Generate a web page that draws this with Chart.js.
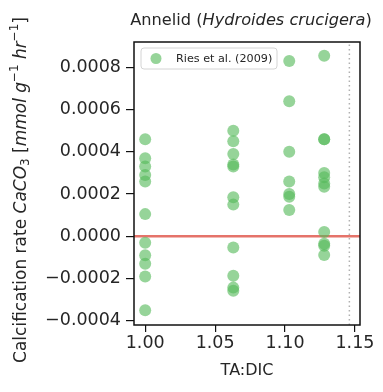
<!DOCTYPE html>
<html>
<head>
<meta charset="utf-8">
<script src="https://cdn.jsdelivr.net/npm/chart.js@4"></script>
<style>
  html, body { margin: 0; padding: 0; background: #fff; }
  #wrap { width: 383px; height: 392px; }
</style>
</head>
<body>
<div id="wrap"><canvas id="chart" width="383" height="392"></canvas></div>
<script>
// TA:DIC ratio for each group of measurements
const taDic = [1.000, 1.063, 1.103, 1.128];

// calcification rates per TA:DIC group (mmol g-1 hr-1)
const rates100 = [0.00046, 0.00037, 0.00033, 0.00029, 0.00026, 0.000105, -0.00003, -0.00009, -0.00013, -0.00019, -0.00035];
const rates106 = [0.0005, 0.00045, 0.00039, 0.00034, 0.00033, 0.000185, 0.00015, -0.000053, -0.000187, -0.000243, -0.000258];
const rates110 = [0.00083, 0.00064, 0.0004, 0.00026, 0.0002, 0.000187, 0.000124];
const rates113 = [0.000855, 0.00046, 0.00046, 0.0003, 0.00028, 0.00025, 0.000235, 0.00002, -0.000035, -0.000045, -0.000088];

const seriesLabel = 'Ries et al. (2009)';
const xTicks = [1.00, 1.05, 1.10, 1.15];
const yTicks = [-0.0004, -0.0002, 0, 0.0002, 0.0004, 0.0006, 0.0008];
const xRange = [0.992, 1.1536];
const yRange = [-0.00042, 0.00092];
const zeroLine = 0;
const refLine = 1.146;

const FONT = "'DejaVu Sans', sans-serif";
const TXT = '#262626';
const GREEN = 'rgba(85, 185, 90, 0.62)';

const points = [];
[rates100, rates106, rates110, rates113].forEach((arr, i) => {
    arr.forEach(v => points.push({ x: taDic[i], y: v }));
});

// draws a list of [text, style] runs; style: 'n' normal, 'i' italic, 'sub', 'sup'
function drawRuns(ctx, runs, size) {
    let total = 0;
    const parts = runs.map(([t, s]) => {
        const fs = (s === 'sub' || s === 'sup') ? size * 0.7 : size;
        const f = (s === 'i' ? 'italic ' : '') + fs + 'px ' + FONT;
        ctx.font = f;
        const w = ctx.measureText(t).width;
        total += w;
        return { t, s, f, w };
    });
    let x = -total / 2;
    parts.forEach(p => {
        ctx.font = p.f;
        let dy = 0;
        if (p.s === 'sub') dy = size * 0.25;
        if (p.s === 'sup') dy = -size * 0.4;
        ctx.fillText(p.t, x, dy);
        x += p.w;
    });
}

const decorations = {
    id: 'decorations',
    beforeDatasetsDraw(chart) {
        const { ctx } = chart;
        ctx.save();
        ctx.fillStyle = TXT;
        ctx.textBaseline = 'middle';
        ctx.textAlign = 'left';
        // title
        ctx.translate(251, 21);
        drawRuns(ctx, [['Annelid (', 'n'], ['Hydroides crucigera', 'i'], [')', 'n']], 16.2);
        ctx.restore();

        ctx.save();
        ctx.fillStyle = TXT;
        ctx.textBaseline = 'middle';
        ctx.textAlign = 'left';
        ctx.translate(22, 190);
        ctx.rotate(-Math.PI / 2);
        drawRuns(ctx, [
            ['Calcification rate ', 'n'], ['CaCO', 'i'], ['3', 'sub'],
            [' [', 'n'], ['mmol', 'i'], [' ', 'n'], ['g', 'i'], ['\u22121', 'sup'],
            [' ', 'n'], ['hr', 'i'], ['\u22121', 'sup'], [']', 'n']
        ], 17);
        ctx.restore();
    },
    afterDatasetsDraw(chart) {
        const { ctx, chartArea: a } = chart;
        ctx.save();
        // frame
        ctx.strokeStyle = '#111';
        ctx.lineWidth = 1.5;
        ctx.strokeRect(a.left, a.top, a.right - a.left, a.bottom - a.top);
        // legend box
        const lx = 141, ly = 48, lw = 136, lh = 21;
        ctx.fillStyle = 'rgba(255,255,255,0.8)';
        ctx.strokeStyle = '#d4d4d4';
        ctx.lineWidth = 1;
        ctx.beginPath();
        ctx.roundRect(lx, ly, lw, lh, 3);
        ctx.fill();
        ctx.stroke();
        ctx.fillStyle = GREEN;
        ctx.beginPath();
        ctx.arc(156, ly + lh / 2, 5.5, 0, Math.PI * 2);
        ctx.fill();
        ctx.fillStyle = TXT;
        ctx.font = '11.2px ' + FONT;
        ctx.textBaseline = 'middle';
        ctx.fillText(seriesLabel, 176, ly + lh / 2 + 0.5);
        ctx.restore();
    }
};

new Chart(document.getElementById('chart'), {
    type: 'scatter',
    data: {
        datasets: [
            {
                label: 'zero',
                type: 'line',
                data: [{ x: xRange[0], y: zeroLine }, { x: xRange[1], y: zeroLine }],
                borderColor: 'rgba(226, 100, 90, 0.9)',
                borderWidth: 2.5,
                pointRadius: 0,
                order: 3
            },
            {
                label: 'ref',
                type: 'line',
                data: [{ x: refLine, y: yRange[0] }, { x: refLine, y: yRange[1] }],
                borderColor: '#b0b0b0',
                borderWidth: 1.5,
                borderDash: [1.5, 3],
                pointRadius: 0,
                order: 2
            },
            {
                label: seriesLabel,
                data: points,
                backgroundColor: GREEN,
                borderWidth: 0,
                pointRadius: 6,
                order: 1
            }
        ]
    },
    options: {
        responsive: false,
        animation: false,
        layout: { padding: { top: 42, right: 23, left: 0, bottom: 12 } },
        plugins: {
            legend: { display: false },
            tooltip: { enabled: false }
        },
        scales: {
            x: {
                type: 'linear',
                min: xRange[0],
                max: xRange[1],
                afterBuildTicks: s => { s.ticks = xTicks.map(v => ({ value: v })); },
                afterFit: s => { s.height = 55; },
                grid: { drawOnChartArea: false, drawTicks: true, tickLength: 7, color: '#111', lineWidth: 1.2 },
                border: { display: false },
                ticks: {
                    color: TXT,
                    font: { family: FONT, size: 17.5 },
                    padding: 1,
                    maxRotation: 0,
                    callback: v => v.toFixed(2)
                },
                title: {
                    display: true,
                    text: 'TA:DIC',
                    color: TXT,
                    font: { family: FONT, size: 16 },
                    padding: { top: 0, bottom: 0 }
                }
            },
            y: {
                type: 'linear',
                min: yRange[0],
                max: yRange[1],
                afterBuildTicks: s => { s.ticks = yTicks.map(v => ({ value: v })); },
                afterFit: s => { s.width = 134; },
                grid: { drawOnChartArea: false, drawTicks: true, tickLength: 8, color: '#111', lineWidth: 1.2 },
                border: { display: false },
                ticks: {
                    color: TXT,
                    font: { family: FONT, size: 17.5 },
                    padding: 5,
                    callback: v => (v < 0 ? '\u2212' : '') + Math.abs(v).toFixed(4)
                }
            }
        }
    },
    plugins: [decorations]
});
</script>
</body>
</html>
